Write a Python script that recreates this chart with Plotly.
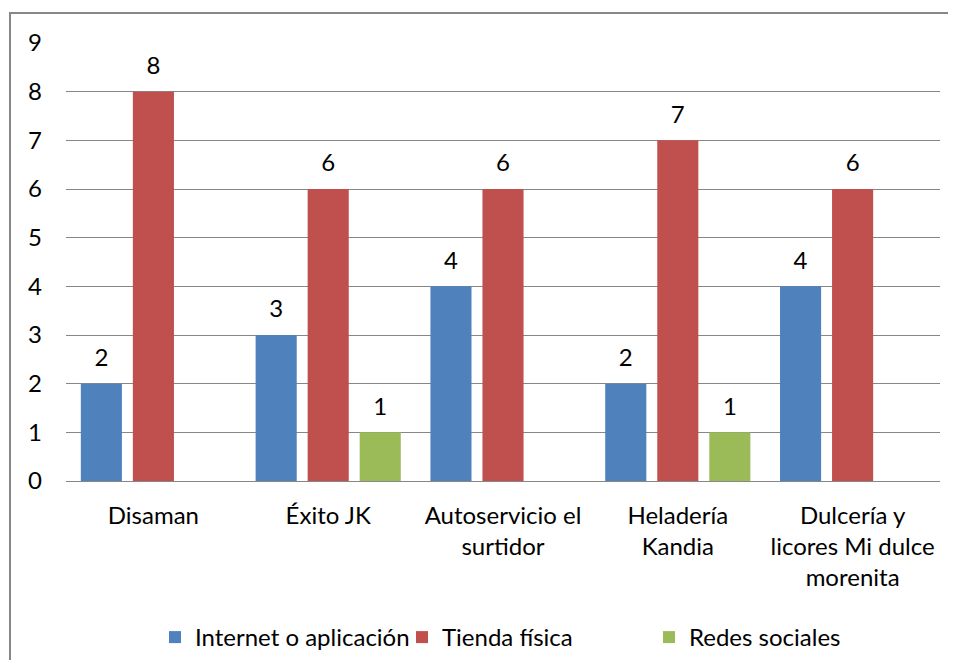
import plotly.graph_objects as go

categories = ["Disaman", "Éxito JK", "Autoservicio el<br>surtidor",
              "Heladería<br>Kandia", "Dulcería y<br>licores Mi dulce<br>morenita"]
internet = [2, 3, 4, 2, 4]
tienda = [8, 6, 6, 7, 6]
redes = [None, 1, None, 1, None]
series_names = ["Internet o aplicación", "Tienda física", "Redes sociales"]
colors = ["#4F81BD", "#C0504D", "#9BBB59"]
y_ticks = list(range(0, 10))

FONT = "Lato, Carlito, Calibri, sans-serif"
LABEL_LIFT = 0.2  # gap between bar top and data label, in axis units

fig = go.Figure()
for i, (name, vals, col) in enumerate(zip(series_names, [internet, tienda, redes], colors)):
    grp = str(i)
    fig.add_trace(go.Bar(
        x=categories, y=vals, name=name, offsetgroup=grp,
        marker=dict(color=col, line=dict(width=0)),
        hoverinfo="x+y",
    ))
    # transparent spacer bar carrying the data label above the real bar
    fig.add_trace(go.Bar(
        x=categories,
        y=[None if v is None else LABEL_LIFT for v in vals],
        base=[None if v is None else v for v in vals],
        offsetgroup=grp, showlegend=False, hoverinfo="skip",
        marker=dict(color="rgba(0,0,0,0)", line=dict(width=0)),
        text=[("" if v is None else str(v)) for v in vals],
        textposition="outside", textangle=0,
        textfont=dict(family=FONT, size=24, color="#000"),
        cliponaxis=False,
    ))

# page body has an 8px margin; lay the figure out so it lands where the reference is
OFF = 8
W, H = 940, 652
L = 66 - OFF
T = 43 - OFF
R = W - (940 - OFF)
B = H - (481 - OFF)
pw, ph = W - L - R, H - T - B

def px(x):
    return (x - OFF - L) / pw

def py(y):
    return (H - B - (y - OFF)) / ph

fig.update_layout(
    width=W, height=H,
    margin=dict(l=L, r=R, t=T, b=B, autoexpand=False),
    paper_bgcolor="white", plot_bgcolor="white",
    barmode="group", bargap=0.107, bargroupgap=0.21,
    font=dict(family=FONT, size=24, color="#000"),
    showlegend=True,
    legend=dict(orientation="h", x=px(155), xanchor="left",
                y=py(637.5), yanchor="middle",
                entrywidth=202, entrywidthmode="pixels",
                font=dict(family=FONT, size=24, color="#000"),
                itemclick=False, itemdoubleclick=False),
    xaxis=dict(showgrid=False, showline=False, ticks="", ticklabelstandoff=18,
               tickfont=dict(family=FONT, size=24, color="#000")),
    yaxis=dict(range=[0, 9], tickvals=y_ticks, showgrid=True,
               gridcolor="#878787", gridwidth=1.3,
               zeroline=True, zerolinecolor="#878787", zerolinewidth=1.3,
               showline=False, ticks="", ticklabelstandoff=23,
               tickfont=dict(family=FONT, size=24, color="#000")),
    shapes=[dict(type="rect", xref="paper", yref="paper",
                 x0=px(10), x1=px(980), y0=py(700), y1=py(13),
                 line=dict(color="#878787", width=2), layer="below")],
)

fig.write_html("out.html")
